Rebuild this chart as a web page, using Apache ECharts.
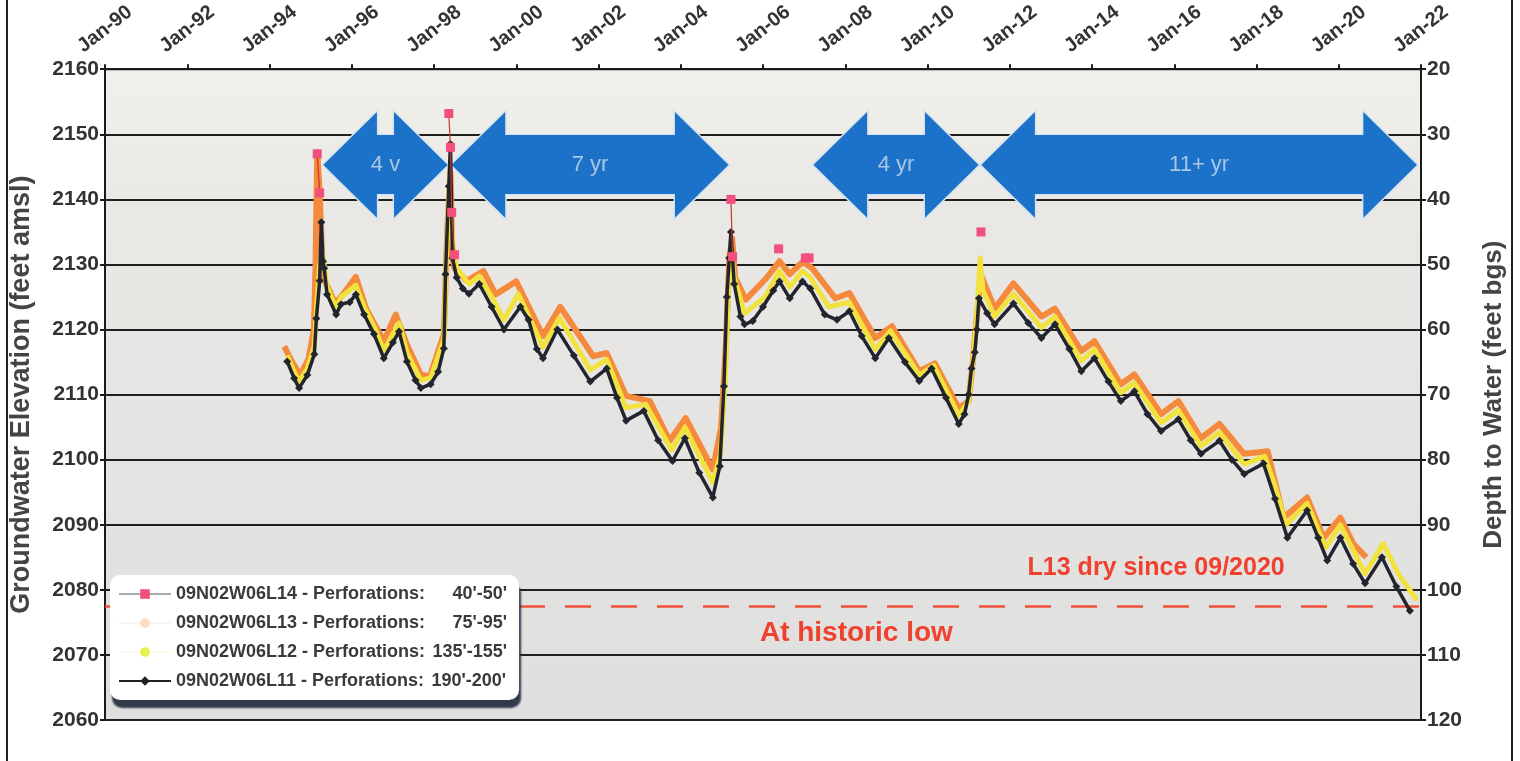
<!DOCTYPE html>
<html><head><meta charset="utf-8">
<script src="https://cdn.jsdelivr.net/npm/echarts@6/dist/echarts.min.js"></script>
<style>html,body{margin:0;padding:0;background:#fff}#c{width:1520px;height:761px}</style>
</head><body><div id="c"></div>
<script>
// ---------- DATA ----------
const xTickLabels = ['Jan-90','Jan-92','Jan-94','Jan-96','Jan-98','Jan-00','Jan-02','Jan-04','Jan-06','Jan-08','Jan-10','Jan-12','Jan-14','Jan-16','Jan-18','Jan-20','Jan-22'];
const wellNames = ['09N02W06L14 - Perforations:','09N02W06L13 - Perforations:','09N02W06L12 - Perforations:','09N02W06L11 - Perforations:'];
const perforations = ["40'-50'","75'-95'","135'-155'","190'-200'"];

// [decimal year, groundwater elevation (ft amsl)]
const l14 = [[1995.16,2147],[1995.22,2141],[1995.3,null],
  [1998.36,2153.2],[1998.40,2148],[1998.43,2138],[1998.50,2131.5],[1998.6,null],
  [2005.22,2140],[2005.26,2131.2],[2005.4,null],
  [2006.38,2132.4],[2006.6,null],
  [2007.03,2131],[2007.12,2131],[2007.3,null],
  [2011.30,2135]];

const l13 = [[1994.36,2117.4],[1994.55,2115],[1994.75,2113],[1994.95,2115.5],[1995.08,2120],[1995.12,2130],[1995.16,2147.3],[1995.22,2141],[1995.28,2131],[1995.35,2127.4],[1995.60,2124],[1995.80,2125.5],[1996.10,2128.1],[1996.35,2123.2],[1996.78,2118.2],[1997.07,2122.3],[1997.34,2117.7],[1997.68,2113.1],[1997.90,2112.8],[1998.24,2119.3],[1998.32,2135],[1998.40,2144],[1998.45,2131],[1998.50,2129.4],[1998.80,2127.5],[1999.20,2129],[1999.50,2125.4],[2000.00,2127.4],[2000.65,2119],[2001.07,2123.5],[2001.87,2115.9],[2002.20,2116.4],[2002.67,2109.8],[2003.25,2109],[2003.73,2102.9],[2004.12,2106.4],[2004.78,2098.5],[2004.98,2104.9],[2005.10,2118],[2005.18,2131],[2005.25,2134],[2005.32,2128],[2005.58,2124.6],[2006.07,2127.8],[2006.40,2130.5],[2006.65,2128.5],[2006.96,2130.4],[2007.20,2129.4],[2007.76,2124.8],[2008.10,2125.6],[2008.73,2118.7],[2009.14,2120.5],[2009.80,2113.6],[2010.18,2114.8],[2010.76,2107.9],[2011.00,2109],[2011.10,2115],[2011.20,2122],[2011.30,2128.4],[2011.63,2123.2],[2012.09,2127.1],[2012.77,2122],[2013.10,2123.2],[2013.74,2116.7],[2014.06,2118.2],[2014.70,2111.6],[2015.03,2113.1],[2015.68,2107],[2016.10,2109],[2016.65,2103.3],[2017.10,2105.5],[2017.70,2100.9],[2018.27,2101.3],[2018.66,2091.1],[2019.23,2094.2],[2019.63,2088],[2020.04,2091.1],[2020.35,2087.1],[2020.67,2085]];

const l12 = [[1994.43,2116],[1994.60,2113.5],[1994.72,2112],[1994.92,2114],[1995.09,2117.5],[1995.14,2123],[1995.22,2130],[1995.30,2131.5],[1995.40,2126.5],[1995.62,2123.3],[1995.74,2125],[1996.10,2126.8],[1996.30,2123.5],[1996.54,2120.5],[1996.78,2116.8],[1997.15,2121],[1997.34,2116.5],[1997.68,2112.2],[1997.92,2112.6],[1998.24,2118.5],[1998.30,2131],[1998.38,2144],[1998.45,2133],[1998.55,2129.5],[1998.85,2127],[1999.10,2128.2],[1999.45,2124.5],[1999.70,2121.5],[2000.05,2125.5],[2000.65,2117.3],[2001.05,2121.8],[2001.80,2113.8],[2002.20,2115.4],[2002.67,2108],[2003.15,2108.5],[2003.78,2101.5],[2004.10,2105],[2004.78,2096.5],[2004.97,2101],[2005.08,2112],[2005.15,2125],[2005.22,2133],[2005.30,2128],[2005.55,2122.5],[2006.05,2125],[2006.40,2129],[2006.65,2126.5],[2006.96,2129],[2007.15,2128],[2007.60,2123.5],[2008.10,2124.2],[2008.73,2117],[2009.10,2119.8],[2009.80,2113],[2010.15,2114.5],[2010.76,2106.8],[2011.00,2109],[2011.10,2115],[2011.20,2122],[2011.28,2131],[2011.35,2126],[2011.63,2122],[2012.09,2125.5],[2012.77,2120.3],[2013.10,2122],[2013.74,2115.2],[2014.06,2117],[2014.70,2110.3],[2015.03,2111.8],[2015.68,2105.7],[2016.10,2107.6],[2016.65,2102.1],[2017.10,2104.2],[2017.70,2099.3],[2018.20,2100.5],[2018.45,2096],[2018.72,2090],[2019.23,2093.3],[2019.68,2086.5],[2020.04,2090],[2020.40,2085.5],[2020.64,2082.5],[2021.08,2087.1],[2021.45,2082.5],[2021.90,2078.4]];

const l11 = [[1994.43,2115.1],[1994.60,2112.5],[1994.72,2111.0],[1994.92,2113.0],[1995.09,2116.2],[1995.14,2121.7],[1995.22,2127.5],[1995.26,2136.5],[1995.30,2130.5],[1995.33,2129.4],[1995.40,2125.4],[1995.62,2122.3],[1995.74,2123.9],[1995.95,2124.2],[1996.10,2125.4],[1996.30,2122.3],[1996.54,2119.3],[1996.78,2115.6],[1997.00,2118.0],[1997.15,2119.7],[1997.34,2115.1],[1997.55,2112.2],[1997.68,2111.0],[1997.92,2111.6],[1998.10,2113.5],[1998.24,2117.1],[1998.28,2128.5],[1998.36,2142],[1998.40,2148.5],[1998.45,2131],[1998.55,2128],[1998.70,2126.3],[1998.85,2125.5],[1999.10,2127.0],[1999.40,2123.5],[1999.70,2120.0],[2000.10,2123.5],[2000.30,2121.5],[2000.50,2117.0],[2000.65,2115.6],[2001.00,2120.0],[2001.40,2116.0],[2001.80,2112.0],[2002.20,2114.0],[2002.45,2109.5],[2002.67,2106.0],[2003.10,2107.5],[2003.45,2103.0],[2003.80,2099.8],[2004.10,2103.3],[2004.45,2098.0],[2004.78,2094.2],[2004.95,2099],[2005.05,2111.3],[2005.12,2125],[2005.18,2131],[2005.22,2135],[2005.30,2127],[2005.45,2122],[2005.55,2120.8],[2005.75,2121.3],[2006.00,2123.5],[2006.25,2126],[2006.40,2127.4],[2006.65,2124.8],[2006.96,2127.4],[2007.15,2126.3],[2007.50,2122.3],[2007.80,2121.5],[2008.10,2122.8],[2008.40,2119],[2008.73,2115.6],[2009.06,2118.7],[2009.45,2115],[2009.80,2112.1],[2010.10,2114],[2010.45,2109.5],[2010.76,2105.5],[2010.90,2107],[2011.00,2110],[2011.07,2114],[2011.15,2116.5],[2011.20,2120],[2011.25,2124.8],[2011.45,2122.5],[2011.63,2120.8],[2012.09,2124],[2012.45,2121],[2012.77,2118.7],[2013.10,2120.8],[2013.45,2117],[2013.74,2113.6],[2014.06,2115.6],[2014.40,2112],[2014.70,2109],[2015.03,2110.5],[2015.35,2107],[2015.68,2104.4],[2016.10,2106.2],[2016.40,2103],[2016.65,2100.9],[2017.10,2102.9],[2017.40,2100],[2017.70,2097.8],[2018.17,2099.4],[2018.45,2094],[2018.75,2088],[2019.23,2092.2],[2019.50,2088],[2019.72,2084.5],[2020.04,2088],[2020.35,2084],[2020.64,2081],[2021.05,2085],[2021.40,2080.5],[2021.73,2076.8]];

const historicLow = 2077.5;

// recovery-interval arrows (decimal years) and labels
const arrowFrom = [1995.28, 1998.40, 2007.20, 2011.28];
const arrowTo   = [1998.36, 2005.19, 2011.27, 2021.93];
const arrowLabels = ['4 v', '7 yr', '4 yr', '11+ yr'];

const noteDry = 'L13 dry since 09/2020';
const noteLow = 'At historic low';

// ---------- CHART ----------
const FONT = 'Liberation Sans, Arial, sans-serif';
const chart = echarts.init(document.getElementById('c'));

const option = {
  animation: false,
  backgroundColor: '#ffffff',
  textStyle: { fontFamily: FONT },
  grid: {
    left: 100, right: 99, top: 67, bottom: 41, show: true,
    backgroundColor: { type: 'linear', x: 0, y: 0, x2: 0, y2: 1,
      colorStops: [{offset: 0, color: '#f2f0ea'}, {offset: 0.22, color: '#e9e8e5'}, {offset: 1, color: '#dfdfdf'}] },
    borderColor: '#1a1a1a', borderWidth: 2
  },
  legend: {
    z: 20,
    orient: 'vertical', left: 110, top: 575,
    itemWidth: 52, itemHeight: 12, itemGap: 11,
    padding: [10, 12, 10, 8],
    backgroundColor: '#ffffff', borderRadius: 10,
    shadowColor: 'rgba(40,48,66,0.95)', shadowBlur: 2, shadowOffsetX: 2, shadowOffsetY: 8,
    data: [
      { name: wellNames[0], itemStyle: { color: '#f24f7c' }, lineStyle: { color: '#555', width: 1 } },
      { name: wellNames[1], itemStyle: { color: '#fbdcc4' }, lineStyle: { color: '#fbe9dc', width: 1 } },
      { name: wellNames[2], itemStyle: { color: '#e7f24c' }, lineStyle: { color: '#f7f8d8', width: 1 } },
      { name: wellNames[3], itemStyle: { color: '#222' }, lineStyle: { color: '#222', width: 2 } }
    ],
    formatter: name => '{a|' + name + '}{b|' + perforations[wellNames.indexOf(name)] + '}',
    textStyle: {
      rich: {
        a: { fontSize: 18, fontWeight: 'bold', color: '#3a3a3a', fontFamily: FONT },
        b: { fontSize: 18, fontWeight: 'bold', color: '#3a3a3a', fontFamily: FONT, width: 82, align: 'right' }
      }
    }
  },
  xAxis: {
    type: 'value', position: 'top', min: 1990, max: 2022, interval: 2,
    axisLine: { show: true, lineStyle: { color: '#1a1a1a', width: 2 } },
    axisTick: { show: true, length: 5, lineStyle: { color: '#1a1a1a', width: 2 } },
    splitLine: { show: false },
    axisLabel: {
      rotate: -38, margin: 40, align: 'center', verticalAlign: 'middle',
      fontSize: 20, fontWeight: 'bold', color: '#333', fontFamily: FONT,
      formatter: v => xTickLabels[Math.round((v - 1990) / 2)]
    }
  },
  yAxis: [
    {
      type: 'value', position: 'left', min: 2060, max: 2160, interval: 10,
      name: 'Groundwater Elevation (feet amsl)', nameLocation: 'middle', nameGap: 70, nameRotate: 90,
      nameTextStyle: { fontSize: 27, fontWeight: 'bold', color: '#444', fontFamily: FONT },
      axisLine: { show: true, lineStyle: { color: '#1a1a1a', width: 2 } },
      axisTick: { show: true, length: 5, lineStyle: { color: '#1a1a1a', width: 2 } },
      splitLine: { show: true, lineStyle: { color: '#1f1f1f', width: 2 } },
      axisLabel: { fontSize: 21, fontWeight: 'bold', color: '#333', margin: 6, fontFamily: FONT, formatter: v => String(v) }
    },
    {
      type: 'value', position: 'right', min: 20, max: 120, interval: 10, inverse: true,
      name: 'Depth to Water (feet bgs)', nameLocation: 'middle', nameGap: 60, nameRotate: 90,
      nameTextStyle: { fontSize: 26, fontWeight: 'bold', color: '#444', fontFamily: FONT },
      axisLine: { show: true, lineStyle: { color: '#1a1a1a', width: 2 } },
      axisTick: { show: true, length: 5, lineStyle: { color: '#1a1a1a', width: 2 } },
      splitLine: { show: false },
      axisLabel: { fontSize: 21, fontWeight: 'bold', color: '#333', margin: 6, fontFamily: FONT, formatter: v => String(v) }
    }
  ],
  series: [
    { name: wellNames[0], type: 'line', data: l14, z: 6, connectNulls: false,
      symbol: 'rect', symbolSize: 9, showAllSymbol: true,
      itemStyle: { color: '#f24f7c' }, lineStyle: { color: '#c0392b', width: 1.2 } },
    { name: wellNames[1], type: 'line', data: l13, z: 3,
      symbol: 'circle', symbolSize: 5, showSymbol: false,
      itemStyle: { color: '#f5873a' }, lineStyle: { color: '#f5893c', width: 6, join: 'round' } },
    { name: wellNames[2], type: 'line', data: l12, z: 4,
      symbol: 'circle', symbolSize: 5, showSymbol: false,
      itemStyle: { color: '#f0e33c' }, lineStyle: { color: '#f1e23e', width: 5, join: 'round' } },
    { name: wellNames[3], type: 'line', data: l11, z: 5,
      symbol: 'diamond', symbolSize: 8, showAllSymbol: true,
      itemStyle: { color: '#23252e' }, lineStyle: { color: '#23252e', width: 3.5, join: 'round' },
      markLine: { silent: true, symbol: 'none', animation: false,
        label: { show: false },
        lineStyle: { color: '#f0503c', type: [26, 20], width: 2.5 },
        data: [{ yAxis: historicLow }] } }
  ]
};
chart.setOption(option);

// ---------- annotations placed through the axes ----------
const px = (x, y) => chart.convertToPixel({ xAxisIndex: 0, yAxisIndex: 0 }, [x, y]);
const headLen = 1.35, headTop = 2153.7, shaftTop = 2150.0, mid = 2145.3, shaftBot = 2140.7, headBot = 2136.9;
const graphics = [];
arrowFrom.forEach((x0, i) => {
  const x1 = arrowTo[i];
  const pts = [[x0, mid], [x0 + headLen, headTop], [x0 + headLen, shaftTop], [x1 - headLen, shaftTop], [x1 - headLen, headTop],
               [x1, mid], [x1 - headLen, headBot], [x1 - headLen, shaftBot], [x0 + headLen, shaftBot], [x0 + headLen, headBot]]
              .map(p => px(p[0], p[1]));
  graphics.push({ type: 'polygon', z: 1, shape: { points: pts },
    style: { fill: '#1c72c8', stroke: '#d6e4f0', lineWidth: 1.5 } });
  const c = px((x0 + x1) / 2, mid);
  graphics.push({ type: 'text', z: 1, x: c[0], y: c[1],
    style: { text: arrowLabels[i], fill: '#a9c6e4', fontSize: 22, fontFamily: FONT, align: 'center', verticalAlign: 'middle' } });
});
const pDry = px(2015.56, 2083.4);
graphics.push({ type: 'text', z: 20, x: pDry[0], y: pDry[1],
  style: { text: noteDry, fill: '#f0402e', fontSize: 25, fontWeight: 'bold', fontFamily: FONT, align: 'center', verticalAlign: 'middle' } });
const pLow = px(2008.27, 2073.3);
graphics.push({ type: 'text', z: 20, x: pLow[0], y: pLow[1],
  style: { text: noteLow, fill: '#f0402e', fontSize: 28, fontWeight: 'bold', fontFamily: FONT, align: 'center', verticalAlign: 'middle' } });
// page frame lines
graphics.push({ type: 'line', z: 20, shape: { x1: 7, y1: 0, x2: 7, y2: 761 }, style: { stroke: '#222', lineWidth: 2 } });
graphics.push({ type: 'line', z: 20, shape: { x1: 1512, y1: 0, x2: 1512, y2: 761 }, style: { stroke: '#222', lineWidth: 2 } });
chart.setOption({ graphic: graphics });
</script>
</body></html>
